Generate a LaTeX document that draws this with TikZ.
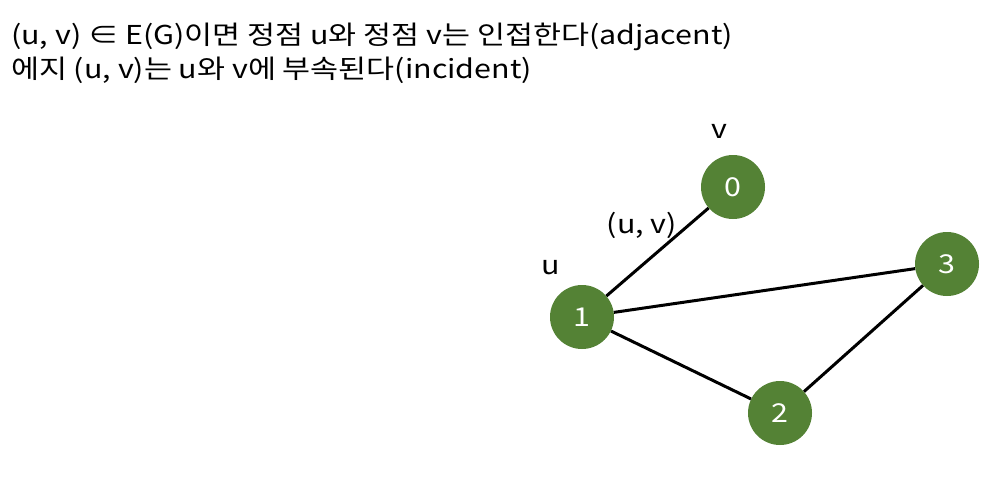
\documentclass[tikz,border=0pt]{standalone}
\usepackage{fontspec}
\setmainfont{Noto Sans CJK KR}[FakeStretch=1.17]
\definecolor{vgreen}{HTML}{548235}
\begin{document}
\begin{tikzpicture}[x=1pt,y=-1pt,
  vtx/.style={circle,fill=vgreen,minimum size=64pt,inner sep=0pt,text=white,font=\fontsize{26}{30}\selectfont},
  lbl/.style={inner sep=0pt,font=\fontsize{26}{30}\selectfont},
  edge/.style={line width=3pt}]
\useasboundingbox (0,0) rectangle (1008,480);
\node[lbl,anchor=base west] (t1) at (11,44) {(u, v) ∈ E(G)이면 정점 u와 정점 v는 인접한다(adjacent)};
\node[lbl,anchor=base west] (t2) at (11,78) {에지 (u, v)는 u와 v에 부속된다(incident)};
\node[vtx] (n0) at (733,187) {0};
\node[vtx] (n1) at (582,317) {1};
\node[vtx] (n2) at (780,413) {2};
\node[vtx] (n3) at (947,264) {3};
\node[lbl] (lv) at (719,131) {v};
\node[lbl] (luv) at (642,225) {(u, v)};
\node[lbl] (lu) at (551,268) {u};
\draw[edge] (n1) -- (n0);
\draw[edge] (n1) -- (n3);
\draw[edge] (n1) -- (n2);
\draw[edge] (n2) -- (n3);
\end{tikzpicture}
\end{document}
